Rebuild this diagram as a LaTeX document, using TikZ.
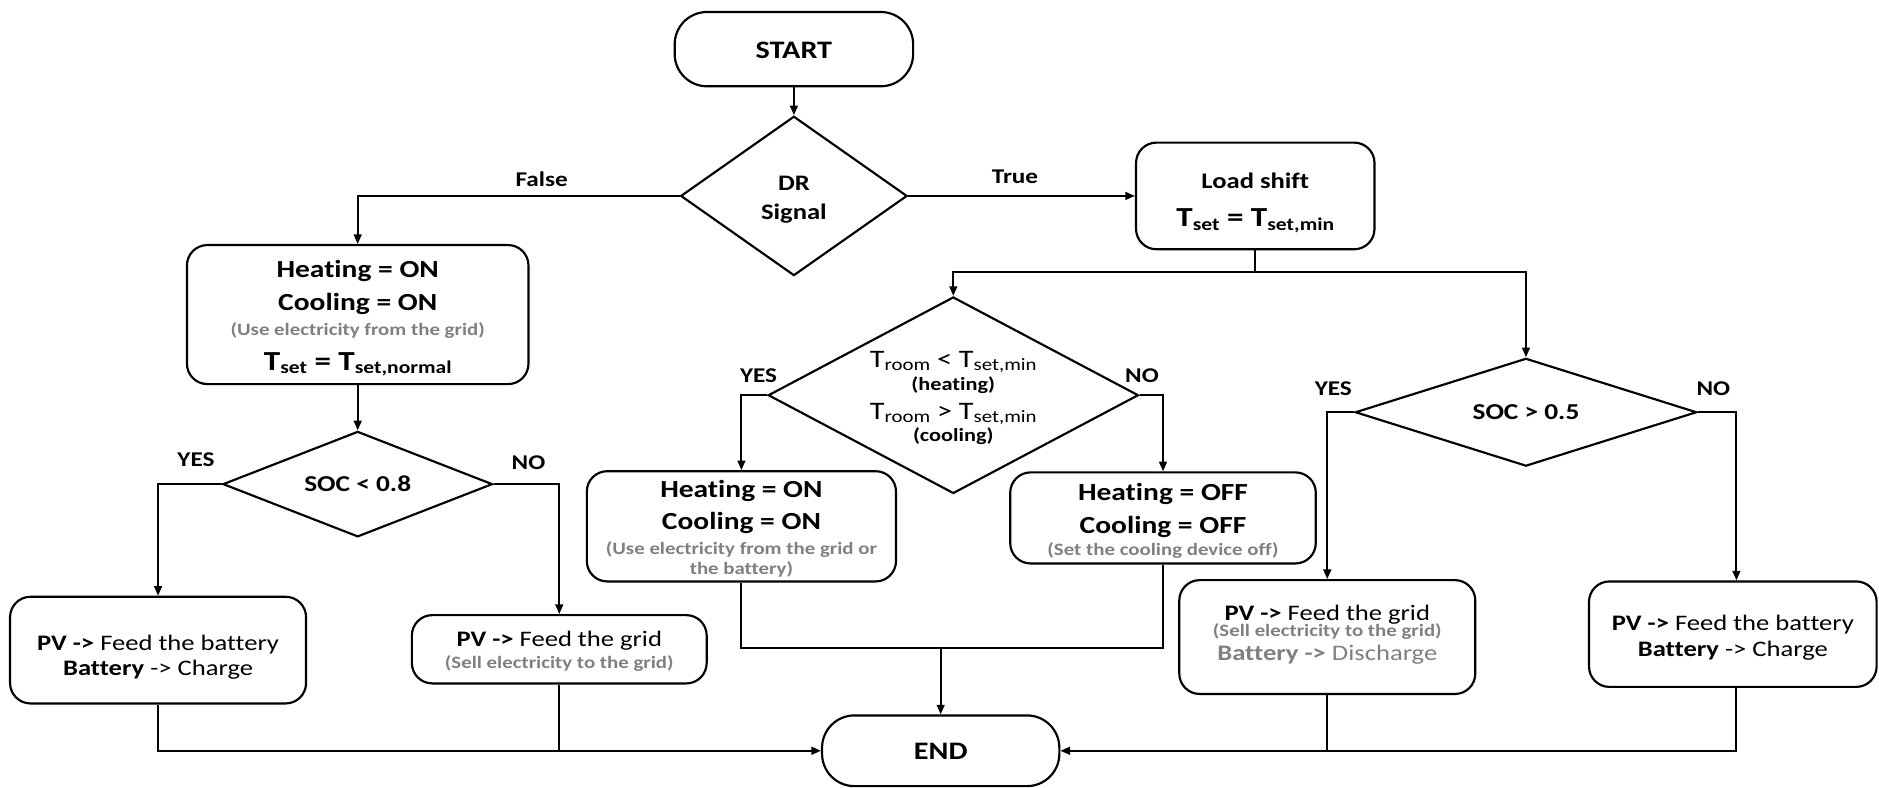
\documentclass[tikz,border=0pt]{standalone}
\usepackage{fontspec}
\setmainfont{Carlito}[FakeStretch=1.2, Ligatures={TeX,NoCommon}]
\usetikzlibrary{shapes.geometric,arrows.meta,calc}
\definecolor{txtgray}{RGB}{128,128,128}
\newcommand\Tsb[3]{T\raisebox{-#3}{\fontsize{#2}{#2}\selectfont #1}}
\begin{document}
\begin{tikzpicture}[x=1pt,y=-1pt,
  bx/.style={draw, line width=1.8pt, rounded corners=17pt, inner sep=0pt},
  term/.style={draw, line width=1.8pt, rounded corners=27pt, inner sep=0pt},
  dm/.style={draw, line width=1.8pt, diamond, inner sep=0pt},
  ln/.style={line width=1.6pt},
  ar/.style={ln, -{Triangle[length=8pt,width=6.5pt]}},
  tx/.style={anchor=base, inner sep=0pt},
  fbig/.style={font=\fontsize{20.5}{24}\selectfont\bfseries},
  ft/.style={font=\fontsize{23}{27}\selectfont\bfseries},
  fpv/.style={font=\fontsize{18.5}{22}\selectfont},
  fgr/.style={font=\fontsize{14.5}{17}\selectfont\bfseries, text=txtgray},
  flab/.style={font=\fontsize{17.5}{20}\selectfont\bfseries},
  fsoc/.style={font=\fontsize{19}{22}\selectfont\bfseries},
  fterm/.style={font=\fontsize{21}{25}\selectfont\bfseries},
  ftr/.style={font=\fontsize{21}{25}\selectfont},
  fpar/.style={font=\fontsize{15.5}{18}\selectfont\bfseries},
]
\fill[white] (0,0) rectangle (1568,657);
\useasboundingbox (0,0) rectangle (1568,657);

% ---------- shapes ----------
\node[term, minimum width=199pt, minimum height=62pt] (start) at (662.5,41) {};
\node[dm, minimum width=189pt, minimum height=133pt] (dr) at (662.5,163.5) {};
\node[bx, minimum width=199pt, minimum height=89pt] (ls) at (1047.5,163.5) {};
\node[bx, minimum width=285pt, minimum height=116pt] (h1) at (298.5,262.5) {};
\node[dm, minimum width=225pt, minimum height=88pt] (soca) at (298.5,404) {};
\node[bx, minimum width=247pt, minimum height=89pt] (pvb1) at (131.9,542.5) {};
\node[bx, minimum width=246pt, minimum height=57pt] (pvg1) at (466.7,541.8) {};
\node[dm, minimum width=309pt, minimum height=164pt] (troom) at (795.5,329.8) {};
\node[bx, minimum width=258pt, minimum height=92pt] (hon) at (618.7,439.2) {};
\node[bx, minimum width=255pt, minimum height=76pt] (hoff) at (970.5,432.2) {};
\node[dm, minimum width=285pt, minimum height=90pt] (socb) at (1273.4,344) {};
\node[bx, minimum width=247pt, minimum height=95pt] (pvg2) at (1107.6,531.6) {};
\node[bx, minimum width=240pt, minimum height=88pt] (pvb2) at (1446,529.2) {};
\node[term, minimum width=198pt, minimum height=59pt] (endn) at (785,626.5) {};

% ---------- texts ----------
\node[tx, fterm] (startt) at (662.5,49) {START};
\node[tx, font=\fontsize{18.5}{22}\selectfont\bfseries] (drt1) at (662.5,159) {DR};
\node[tx, font=\fontsize{18.5}{22}\selectfont\bfseries] (drt2) at (662.5,183) {Signal};
\node[tx, font=\fontsize{18.5}{22}\selectfont\bfseries] (lst1) at (1047.5,157.5) {Load shift};
\node[tx, ft] (lst2) at (1047.5,189) {\Tsb{set}{15}{3pt} = \Tsb{set,min}{15}{3pt}};

\node[tx, fbig] (h1t1) at (298.5,231.7) {Heating = ON};
\node[tx, fbig] (h1t2) at (298.5,258.7) {Cooling = ON};
\node[tx, fgr] (h1t3) at (298.5,279.6) {(Use electricity from the grid)};
\node[tx, ft] (h1t4) at (298.5,308.8) {\Tsb{set}{15}{3pt} = \Tsb{set,normal}{15}{3pt}};

\node[tx, fsoc] (socat) at (298.5,410.5) {SOC < 0.8};
\node[tx, fsoc] (socbt) at (1273.4,350.3) {SOC > 0.5};

\node[tx, ftr] (trt1) at (795.5,307) {\Tsb{room}{14.5}{2.5pt} < \Tsb{set,min}{14.5}{2.5pt}};
\node[tx, fpar] (trt2) at (795.5,326) {(heating)};
\node[tx, ftr] (trt3) at (795.5,350) {\Tsb{room}{14.5}{2.5pt} > \Tsb{set,min}{14.5}{2.5pt}};
\node[tx, fpar] (trt4) at (795.5,368) {(cooling)};

\node[tx, fbig] (hont1) at (618.7,415) {Heating = ON};
\node[tx, fbig] (hont2) at (618.7,441.5) {Cooling = ON};
\node[tx, fgr] (hont3) at (618.7,463) {(Use electricity from the grid or};
\node[tx, fgr] (hont4) at (618.7,479.5) {the battery)};

\node[tx, fbig] (hofft1) at (970.5,417.3) {Heating = OFF};
\node[tx, fbig] (hofft2) at (970.5,445) {Cooling = OFF};
\node[tx, fgr] (hofft3) at (970.5,463.2) {(Set the cooling device off)};

\node[tx, fpv] (pvb1t1) at (131.9,542.5) {\textbf{PV ->} Feed the battery};
\node[tx, fpv] (pvb1t2) at (131.9,563.5) {\textbf{Battery} -> Charge};
\node[tx, fpv] (pvg1t1) at (466.7,539.7) {\textbf{PV ->} Feed the grid};
\node[tx, fgr] (pvg1t2) at (466.7,557.7) {(Sell electricity to the grid)};

\node[tx, fpv] (pvg2t1) at (1107.6,517.4) {\textbf{PV ->} Feed the grid};
\node[tx, fgr] (pvg2t2) at (1107.6,530.8) {(Sell electricity to the grid)};
\node[tx, fpv, text=txtgray] (pvg2t3) at (1107.6,551) {\textbf{Battery ->} Discharge};
\node[tx, fpv] (pvb2t1) at (1446,525.8) {\textbf{PV ->} Feed the battery};
\node[tx, fpv] (pvb2t2) at (1446,548) {\textbf{Battery} -> Charge};

\node[tx, fterm] (endt) at (785,634) {END};

% ---------- labels ----------
\node[tx, flab] (lfalse) at (452,155.5) {False};
\node[tx, flab] (ltrue) at (847,153.5) {True};
\node[tx, flab] (lyes1) at (163.5,389.5) {YES};
\node[tx, flab] (lno1) at (441,391.5) {NO};
\node[tx, flab] (lyes2) at (633,319.5) {YES};
\node[tx, flab] (lno2) at (953,319.5) {NO};
\node[tx, flab] (lyes3) at (1112.6,330) {YES};
\node[tx, flab] (lno3) at (1429.8,330) {NO};

% ---------- connectors ----------
\coordinate (lsj) at (1047.5,227);
\coordinate (nox) at (1449,0);
\coordinate (mj) at (785,541);
\draw[ar] (start) -- (dr);
\draw[ar] (dr.west) -| (h1.north);
\draw[ar] (dr.east) -- (ls.west);
\draw[ln] (ls.south) -- (lsj);
\draw[ar] (lsj) -| (troom.north);
\draw[ar] (lsj) -| (socb.north);
\draw[ar] (h1.south) -- (soca.north);
\draw[ar] (soca.west) -| (pvb1.north);
\draw[ar] (soca.east) -| (pvg1.north);
\draw[ar] (troom.west) -| (hon.north);
\draw[ar] (troom.east) -| (hoff.north);
\draw[ar] (socb.west) -| (pvg2.north);
\draw[ar] (socb.east) -| (nox |- pvb2.north);
\draw[ar] (pvb1.south) |- (endn.west);
\draw[ln] (pvg1.south) -- (pvg1.south |- endn.west);
\draw[ln] (hon.south) |- (mj);
\draw[ln] (hoff.south) |- (mj);
\draw[ar] (mj) -- (endn.north);
\draw[ar] (nox |- pvb2.south) |- (endn.east);
\draw[ln] (pvg2.south) -- (pvg2.south |- endn.east);
\end{tikzpicture}
\end{document}
